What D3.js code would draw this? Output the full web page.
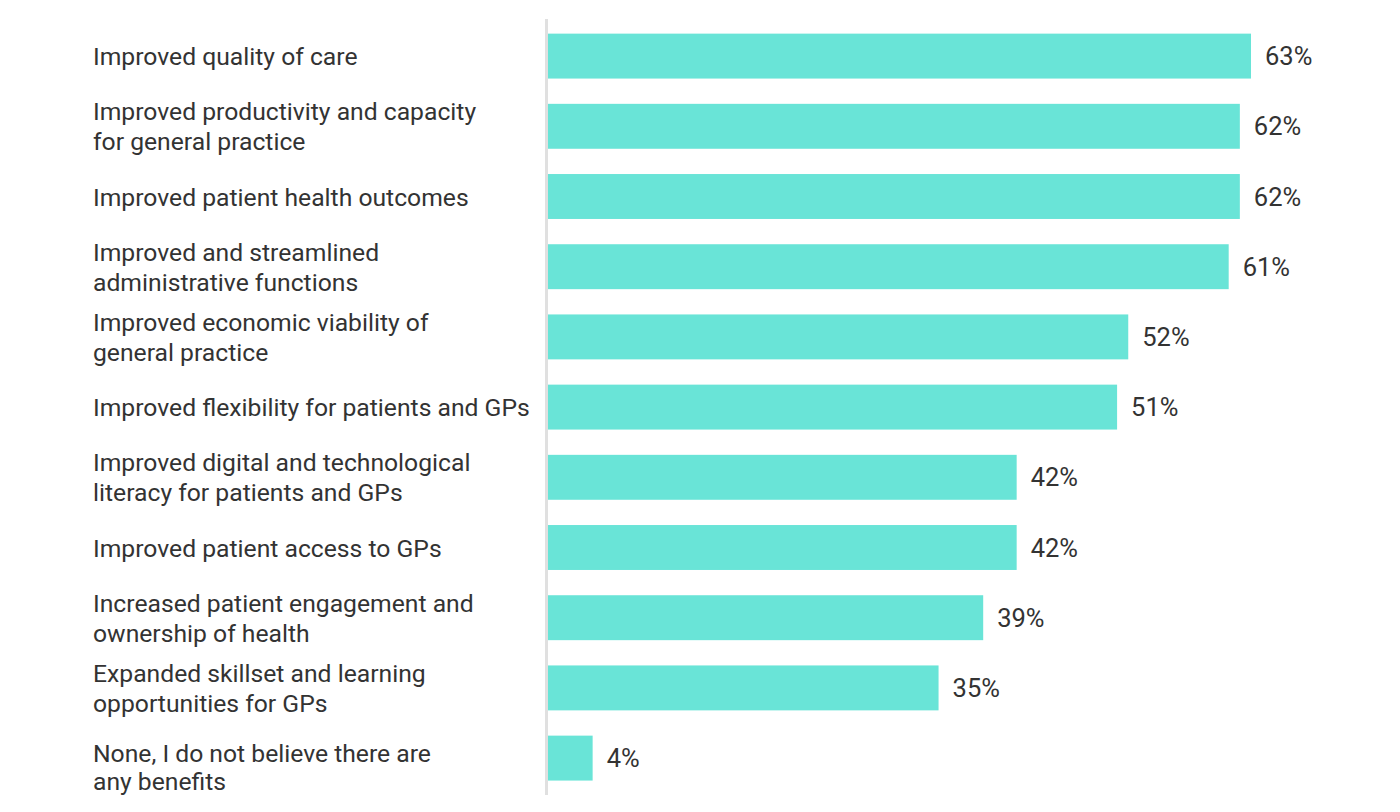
<!DOCTYPE html>
<html>
<head>
    <meta charset="utf-8">
    <script src="https://d3js.org/d3.v7.min.js" charset="utf-8"></script>
    <style>
        body { margin: 0; background: #fff; }
        text { font-family: Roboto, "Noto Sans", sans-serif; fill: #333; }
    </style>
</head>
<body>
    <div id="chart_container"></div>
    <script>
        var width = 1400,
            height = 812;

        // Benefits and share of respondents (%)
        const categories = [
            ['Improved quality of care'],
            ['Improved productivity and capacity', 'for general practice'],
            ['Improved patient health outcomes'],
            ['Improved and streamlined', 'administrative functions'],
            ['Improved economic viability of', 'general practice'],
            ['Improved flexibility for patients and GPs'],
            ['Improved digital and technological', 'literacy for patients and GPs'],
            ['Improved patient access to GPs'],
            ['Increased patient engagement and', 'ownership of health'],
            ['Expanded skillset and learning', 'opportunities for GPs'],
            ['None, I do not believe there are', 'any benefits']
        ];
        const values = [63, 62, 62, 61, 52, 51, 42, 42, 39, 35, 4];

        var margin = { top: 21, left: 548, labelX: 93 };

        const svg = d3.select('#chart_container')
            .append('svg')
            .attr('width', width)
            .attr('height', height);

        const y = d3.scaleBand()
            .domain(d3.range(values.length))
            .range([margin.top, margin.top + 70.2 * values.length])
            .paddingInner(0.36)
            .paddingOuter(0.18);

        const x = d3.scaleLinear()
            .domain([0, 63])
            .range([margin.left, 1251]);

        // bars
        svg.selectAll('.bar')
            .data(values)
            .enter()
            .append('rect')
            .attr('class', 'bar')
            .attr('x', x(0))
            .attr('y', (d, i) => y(i))
            .attr('width', d => x(d) - x(0))
            .attr('height', y.bandwidth())
            .attr('fill', '#69e4d7');

        // vertical baseline
        svg.append('line')
            .attr('x1', x(0) - 1.5)
            .attr('x2', x(0) - 1.5)
            .attr('y1', 19)
            .attr('y2', 795)
            .attr('stroke', '#e0e0e0')
            .attr('stroke-width', 3);

        // value labels
        svg.selectAll('.value')
            .data(values)
            .enter()
            .append('text')
            .attr('class', 'value')
            .attr('x', d => x(d) + 14)
            .attr('y', (d, i) => y(i) + y.bandwidth() / 2 + 9)
            .style('font-size', '25.5px')
            .text(d => d + '%');

        // category labels
        const lineHeight = 30;
        const labels = svg.selectAll('.label')
            .data(categories)
            .enter()
            .append('text')
            .attr('class', 'label')
            .style('font-size', '24.7px');

        labels.each(function (lines, i) {
            // last label sits a little lower in the original
            const shift = i === categories.length - 1 ? 9 : 0;
            const lh = i === categories.length - 1 ? 28.5 : lineHeight;
            const cy = y(i) + y.bandwidth() / 2 + 9 + shift;
            d3.select(this).selectAll('tspan')
                .data(lines)
                .enter()
                .append('tspan')
                .attr('x', margin.labelX)
                .attr('y', (d, j) => cy + (j - (lines.length - 1) / 2) * lh)
                .text(d => d);
        });
    </script>
</body>
</html>
